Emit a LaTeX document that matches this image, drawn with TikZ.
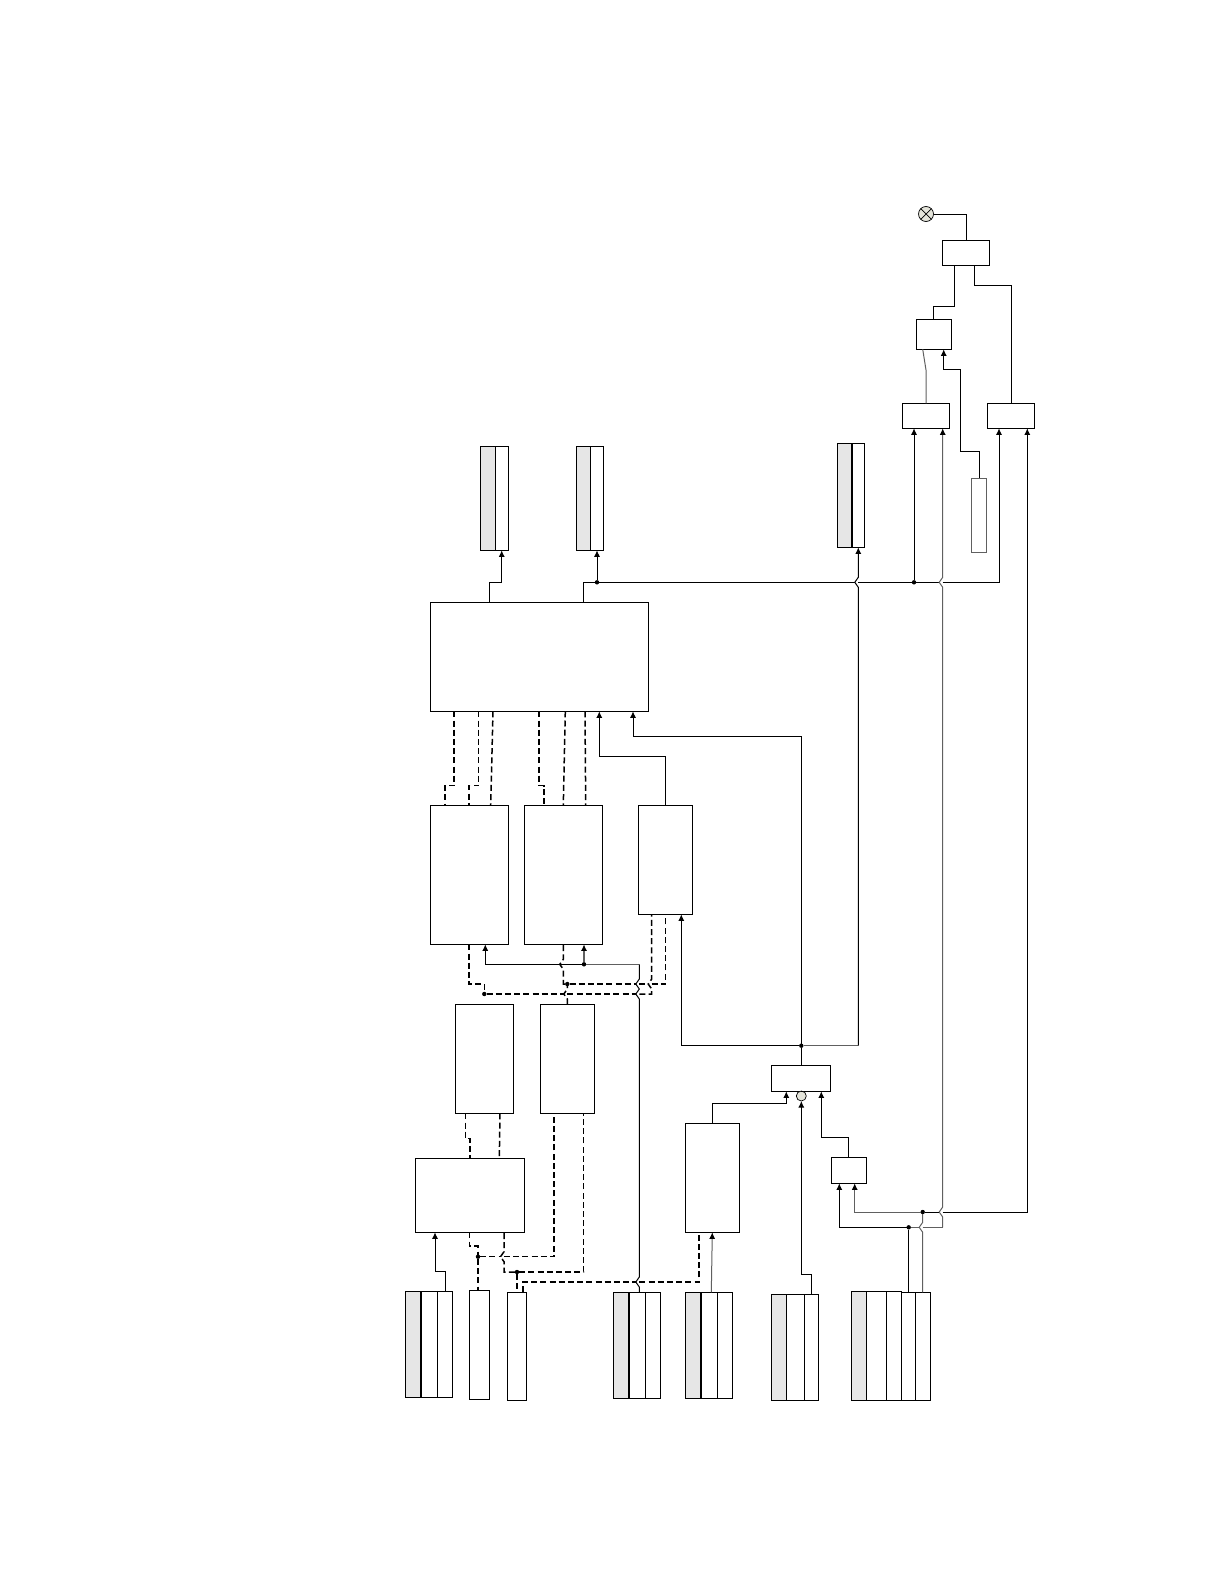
\documentclass[tikz,border=0pt]{standalone}
\usetikzlibrary{arrows.meta,positioning}
\definecolor{lanefill}{HTML}{E6E6E6}
\definecolor{lampfill}{HTML}{E4E4DA}
\definecolor{wiregrey}{HTML}{606060}
\tikzset{
  block/.style={draw=black, line width=1pt, inner sep=0pt, outer sep=0pt, anchor=north west},
  lane/.style={block, minimum height=106pt},
  greylane/.style={lane, fill=lanefill},
  wire/.style={line width=1pt},
  greywire/.style={line width=1pt, draw=wiregrey},
  arrow/.style={-{Latex[length=6.5pt,width=6pt]}, line width=1pt},
  greyarrow/.style={-{Latex[length=6.5pt,width=6pt,black]}, line width=1pt, draw=wiregrey},
  dashwire/.style={line width=1.5pt, dash pattern=on 6pt off 3.2pt},
  split/.style={line width=1.9pt},
  dot/.style={circle, fill=black, minimum size=4.4pt, inner sep=0pt, outer sep=0pt},
  lamp/.style={circle, draw=black, fill=lampfill, line width=0.7pt, inner sep=0pt, outer sep=0pt}
}
% jump of a line running up the page at x=#1, over a crossing at y=#2
\newcommand{\jumpup}[2]{-- (#1,#2+5) .. controls (#1,#2+2.5) and (#1-3.5,#2+2.5) .. (#1-3.5,#2) .. controls (#1-3.5,#2-2.5) and (#1,#2-2.5) .. (#1,#2-5)}
\begin{document}
\begin{tikzpicture}[x=1pt,y=-1pt]
\useasboundingbox (0,0) rectangle (1224,1584);
% output side
\node[lamp, minimum size=15pt] (bulb) at (926,214) {};
\draw[line width=0.7pt] (bulb.45) -- (bulb.225) (bulb.135) -- (bulb.315);
\node[block, minimum width=47pt, minimum height=25pt] (relay) at (942.3,240.3) {};
\node[block, minimum width=35pt, minimum height=30pt] (latch) at (916.3,319.3) {};
\node[block, minimum width=47pt, minimum height=25pt] (cmpa) at (902.3,403.3) {};
\node[block, minimum width=47pt, minimum height=25pt] (cmpb) at (987.3,403.3) {};
\node[block, draw=wiregrey, minimum width=15pt, minimum height=73.7pt] (refer) at (971.7,478.3) {};
% result registers
\node[greylane, minimum width=15pt, minimum height=104pt] (outa) at (480.3,446.3) {};
\node[lane, right=0pt of outa, minimum width=13pt, minimum height=104pt] (outaa) {};
\node[greylane, minimum width=14pt, minimum height=104pt] (outb) at (576.3,446.3) {};
\node[lane, right=0pt of outb, minimum width=13.4pt, minimum height=104pt] (outbb) {};
\node[greylane, minimum width=15pt, minimum height=104pt] (outc) at (837.3,443.3) {};
\node[lane, right=0pt of outc, minimum width=12.4pt, minimum height=104pt] (outcc) {};
\draw[split] (outcc.north west) -- (outcc.south west);
% processing blocks
\node[block, minimum width=218pt, minimum height=109pt] (main) at (430.3,602.3) {};
\node[block, minimum width=78pt, minimum height=139pt] (sela) at (430.3,805.3) {};
\node[block, minimum width=78pt, minimum height=139pt] (selb) at (524.3,805.3) {};
\node[block, minimum width=54pt, minimum height=109pt] (selc) at (638.3,805.3) {};
\node[block, minimum width=58pt, minimum height=109pt] (deca) at (455.3,1004.3) {};
\node[block, minimum width=54pt, minimum height=109pt] (decb) at (540.3,1004.3) {};
\node[block, minimum width=109pt, minimum height=74pt] (ctrl) at (415.3,1158.3) {};
\node[block, minimum width=54.4pt, minimum height=109pt] (scale) at (685.3,1123.3) {};
\node[block, minimum width=59pt, minimum height=26pt] (mixer) at (771.3,1065.3) {};
\node[lamp, minimum size=10pt] (node) at (801.3,1096) {};
\node[block, minimum width=35pt, minimum height=26.3pt] (gate) at (831.3,1157) {};
% input registers
\node[greylane, minimum width=15.3pt] (ina) at (405.7,1291.3) {};
\node[lane, right=0pt of ina, minimum width=16.3pt] (inaa) {};
\node[lane, right=0pt of inaa, minimum width=15pt] (inab) {};
\draw[split] (inaa.north west) -- (inaa.south west);
\node[block, minimum width=20pt, minimum height=109pt] (inb) at (469.3,1290.3) {};
\node[block, minimum width=19.4pt, minimum height=107.7pt] (inc) at (507.3,1292.3) {};
\node[greylane, minimum width=16pt] (ind) at (613.3,1292.3) {};
\node[lane, right=0pt of ind, minimum width=16pt] (inda) {};
\node[lane, right=0pt of inda, minimum width=15pt] (indb) {};
\draw[split] (inda.north west) -- (inda.south west);
\node[greylane, minimum width=15.7pt] (ine) at (685.3,1292.3) {};
\node[lane, right=0pt of ine, minimum width=16.3pt] (inea) {};
\node[lane, right=0pt of inea, minimum width=15pt] (ineb) {};
\draw[split] (inea.north west) -- (inea.south west);
\node[greylane, minimum width=15pt, minimum height=106.4pt] (inf) at (771.3,1294.3) {};
\node[lane, right=0pt of inf, minimum width=18pt, minimum height=106.4pt] (infa) {};
\node[lane, right=0pt of infa, minimum width=14pt, minimum height=106.4pt] (infb) {};
\node[greylane, minimum width=15pt, minimum height=109.4pt] (ing) at (851.3,1291.3) {};
\node[lane, right=0pt of ing, minimum width=20pt, minimum height=109.4pt] (inga) {};
\node[lane, right=0pt of inga, minimum width=15.4pt, minimum height=109.4pt] (ingb) {};
\node[lane, below right=1pt and 0pt of ingb.north east, minimum width=14pt, minimum height=108.4pt] (ingc) {};
\node[lane, right=0pt of ingc, minimum width=14.6pt, minimum height=108.4pt] (ingd) {};
% junctions
\node[dot] (dotbus) at (597,582.3) {};
\node[dot] (dotcmp) at (914,582.3) {};
\node[dot] (dotsel) at (584,964.3) {};
\node[dot] (dotlow) at (567.3,984) {};
\node[dot] (dotdec) at (484.3,994) {};
\node[dot] (dotmix) at (801.3,1045.7) {};
\node[dot] (dotinb) at (478,1256.7) {};
\node[dot] (dotinc) at (517,1272) {};
\node[dot] (dotgate) at (908.7,1227.3) {};
\node[dot] (dotgrey) at (922.7,1212) {};
% top of the chain
\draw[wire] (bulb.east) -| (966,0 |- relay.north);
\draw[wire] (954.7,0 |- relay.south) -- (954.7,306.3) -- (933.3,306.3) -- (933.3,0 |- latch.north);
\draw[wire] (974.3,0 |- relay.south) -- (974.3,285.3) -- (1011.7,285.3) -- (1011.7,0 |- cmpb.north);
\draw[greywire] (926,0 |- cmpa.north) -- (926,370) -- (922.7,0 |- latch.south);
\draw[arrow] (979.3,0 |- refer.north) -- (979.3,451.3) -- (960.3,451.3) -- (960.3,369.3) -- (943.7,369.3) -- (943.7,0 |- latch.south);
% bus from the main block
\draw[arrow] (489.3,0 |- main.north) -- (489.3,582.3) -- (501.7,582.3) -- (501.7,0 |- outaa.south);
\draw[arrow] (dotbus) -- (597,0 |- outbb.south);
\draw[wire] (583.3,0 |- main.north) -- (583.3,582.3) -- (854.8,582.3);
\draw[wire] (858.3,582.3) -- (939.2,582.3);
\draw[arrow] (942.7,582.3) -- (999,582.3) -- (999,0 |- cmpb.south);
\draw[arrow] (dotcmp) -- (914,0 |- cmpa.south);
% mixer outputs
\draw[wire] (mixer.north -| dotmix) -- (dotmix);
\draw[arrow] (dotmix) -- (681.3,1045.7) -- (681.3,0 |- selc.south);
\draw[arrow] (dotmix) -- (801.3,736.3) -- (633,736.3) -- (633,0 |- main.south);
\draw[greywire] (dotmix) -- (858.3,1045.7);
\draw[arrow] (858.3,1045.7) \jumpup{858.3}{582.3} -- (858.3,0 |- outcc.south);
\draw[arrow] (665.7,0 |- selc.north) -- (665.7,756.3) -- (599.3,756.3) -- (599.3,0 |- main.south);
% dashed links, main block
\draw[dashwire] (454,0 |- main.south) -- (454,785.7) -- (445,785.7) -- (445,0 |- sela.north);
\draw[dashwire] (478.7,0 |- main.south) -- (478.7,785.7) -- (469,785.7) -- (469,0 |- sela.north);
\draw[dashwire] (493,0 |- main.south) -- (490.7,0 |- sela.north);
\draw[dashwire] (539,0 |- main.south) -- (539,785.7) -- (544,785.7) -- (544,0 |- selb.north);
\draw[dashwire] (565.3,0 |- main.south) -- (563.3,0 |- selb.north);
\draw[dashwire] (585,0 |- main.south) -- (585.7,0 |- selb.north);
% dashed links, selectors and decoders
\draw[dashwire] (469,0 |- sela.south) -- (469,984) -- (484.3,984) -- (dotdec);
\draw[dashwire] (dotdec) -- (0,994 -| deca.north);
\draw[dashwire] (567.3,0 |- decb.north) \jumpup{567.3}{994} -- (dotlow);
\draw[dashwire] (dotlow) -- (563.3,984) \jumpup{563.3}{964.3} -- (563.3,0 |- selb.south);
\draw[dashwire] (dotlow) -- (635.8,984);
\draw[dashwire] (639.3,984) -- (648.2,984);
\draw[dashwire] (651.7,984) -- (665.7,984) -- (665.7,0 |- selc.south);
\draw[dashwire] (dotdec) -- (563.8,994);
\draw[dashwire] (567.3,994) -- (635.8,994);
\draw[dashwire] (639.3,994) -- (651.7,994) \jumpup{651.7}{984} -- (651.7,0 |- selc.south);
\draw[arrow] (dotsel) -- (485.3,964.3) -- (485.3,0 |- sela.south);
\draw[greyarrow, line width=1.6pt] (dotsel) -- (584,0 |- selb.south);
\draw[greywire] (dotsel) -- (639.3,964.3);
\draw[wire] (639.3,0 |- indb.north) \jumpup{639.3}{1282} \jumpup{639.3}{994} \jumpup{639.3}{984} -- (639.3,964.3);
% dashed links, decoders and control
\draw[dashwire] (465.7,0 |- deca.south) -- (465.7,1138.3) -- (470,1138.3) -- (470,0 |- ctrl.north);
\draw[dashwire] (500,0 |- deca.south) -- (499.3,0 |- ctrl.north);
\draw[dashwire] (469.7,0 |- ctrl.south) -- (469.7,1246) -- (478,1246) -- (dotinb);
\draw[dashwire] (dotinb) -- (478,0 |- inb.north);
\draw[dashwire] (dotinb) -- (500.5,1256.7);
\draw[dashwire] (504,1256.7) -- (554,1256.7) -- (554,0 |- decb.south);
\draw[dashwire] (dotinc) -- (504,1272) \jumpup{504}{1256.7} -- (504,0 |- ctrl.south);
\draw[dashwire] (dotinc) -- (583.7,1272) -- (583.7,0 |- decb.south);
\draw[dashwire] (dotinc) -- (517,0 |- inc.north);
\draw[dashwire] (523,0 |- inc.north) -- (523,1282) -- (635.8,1282);
\draw[dashwire] (639.3,1282) -- (699,1282) -- (699,0 |- scale.south);
% inputs
\draw[arrow] (445.7,0 |- inab.north) -- (445.7,1271.7) -- (435,1271.7) -- (435,0 |- ctrl.south);
\draw[greyarrow] (711.3,0 |- inea.north) -- (712.3,0 |- scale.south);
\draw[arrow] (811.3,0 |- infb.north) -- (811.3,1274.3) -- (801.3,1274.3) -- (801.3,0 |- node.south);
\draw[wire] (node.north) -- (801.3,0 |- mixer.south);
\draw[arrow] (712.3,0 |- scale.north) -- (712.3,1103.3) -- (786.3,1103.3) -- (786.3,0 |- mixer.south);
\draw[arrow] (848.3,0 |- gate.north) -- (848.3,1137.3) -- (821.3,1137.3) -- (821.3,0 |- mixer.south);
% gate and comparator feeds
\draw[wire] (908.7,0 |- ingc.north) -- (dotgate);
\draw[arrow] (dotgate) -- (839.3,1227.3) -- (839.3,0 |- gate.south);
\draw[greyarrow] (dotgrey) -- (854.7,1212) -- (854.7,0 |- gate.south);
\draw[greywire] (922.7,0 |- ingd.north) \jumpup{922.7}{1227.3} -- (dotgrey);
\draw[greywire] (dotgate) -- (919.2,1227.3);
\draw[greywire] (922.7,1227.3) -- (942.7,1227.3);
\draw[greyarrow] (942.7,1227.3) \jumpup{942.7}{1212} \jumpup{942.7}{582.3} -- (942.7,0 |- cmpa.south);
\draw[wire] (dotgrey) -- (939.2,1212);
\draw[arrow] (942.7,1212) -- (1027.3,1212) -- (1027.3,0 |- cmpb.south);
\end{tikzpicture}
\end{document}
